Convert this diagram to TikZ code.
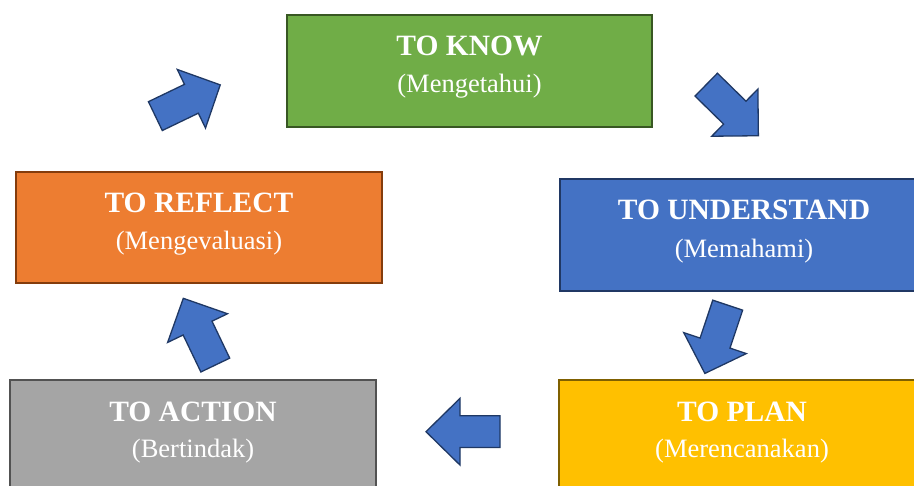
\documentclass[tikz,border=0pt]{standalone}
\usepackage{fontspec}
\setmainfont{Liberation Serif}
\definecolor{kgreen}{HTML}{70AD47}
\definecolor{kgreenD}{HTML}{385723}
\definecolor{ublue}{HTML}{4472C4}
\definecolor{ublueD}{HTML}{203864}
\definecolor{pgold}{HTML}{FFC000}
\definecolor{pgoldD}{HTML}{7F6000}
\definecolor{agray}{HTML}{A5A5A5}
\definecolor{agrayD}{HTML}{525252}
\definecolor{rorange}{HTML}{ED7D31}
\definecolor{rorangeD}{HTML}{843C0C}
\definecolor{arrblue}{HTML}{4472C4}
\definecolor{arrdark}{HTML}{1F3864}
\tikzset{
  box/.style={rectangle, line width=2pt, anchor=north west, inner sep=0pt, outer sep=0pt},
  ttl/.style={text=white, font=\fontsize{29.5}{30}\selectfont\bfseries, anchor=base, inner sep=0pt},
  sub/.style={text=white, font=\fontsize{26.5}{27}\selectfont, anchor=base, inner sep=0pt},
  barrow/.style={fill=arrblue, draw=arrdark, line width=1.3pt, line join=miter},
}
% #1 x, #2 y, #3 angle, #4 length, #5 shaft width, #6 head width, #7 head length
\newcommand\blockarr[7]{%
  \begin{scope}[shift={(#1,#2)}, rotate=#3]
    \draw[barrow] (-#4/2,-#5/2) -- (#4/2-#7,-#5/2) -- (#4/2-#7,-#6/2) -- (#4/2,0)
      -- (#4/2-#7,#6/2) -- (#4/2-#7,#5/2) -- (-#4/2,#5/2) -- cycle;
  \end{scope}}
\begin{document}
\begin{tikzpicture}[x=1pt,y=1pt]
\useasboundingbox (0,0) rectangle (914,-486);
\clip (0,0) rectangle (914,-486);
\fill[white] (0,0) rectangle (914,-486);
% boxes
\node[box, fill=kgreen, draw=kgreenD, minimum width=365pt, minimum height=112pt] (know) at (287,-15) {};
\node[box, fill=ublue, draw=ublueD, minimum width=368pt, minimum height=112pt] (under) at (560,-179) {};
\node[box, fill=pgold, draw=pgoldD, minimum width=366pt, minimum height=111pt] (plan) at (559,-380) {};
\node[box, fill=agray, draw=agrayD, minimum width=366pt, minimum height=111pt] (action) at (10,-380) {};
\node[box, fill=rorange, draw=rorangeD, minimum width=366pt, minimum height=111pt] (reflect) at (16,-172) {};
% texts
\node[ttl] (knowT) at ([yshift=-41pt]know.north) {TO KNOW};
\node[sub] (knowS) at ([yshift=-78pt]know.north) {(Mengetahui)};
\node[ttl] (underT) at ([yshift=-41pt]under.north) {TO UNDERSTAND};
\node[sub] (underS) at ([yshift=-79pt]under.north) {(Memahami)};
\node[ttl] (planT) at ([yshift=-42pt]plan.north) {TO PLAN};
\node[sub] (planS) at ([yshift=-78pt]plan.north) {(Merencanakan)};
\node[ttl] (actionT) at ([yshift=-42pt]action.north) {TO ACTION};
\node[sub] (actionS) at ([yshift=-78pt]action.north) {(Bertindak)};
\node[ttl] (reflectT) at ([yshift=-41pt]reflect.north) {TO REFLECT};
\node[sub] (reflectS) at ([yshift=-78pt]reflect.north) {(Mengevaluasi)};
% block arrows
\blockarr{187.8}{-100.5}{25.7}{72}{32}{65}{32}
\blockarr{732.3}{-110.2}{-44.4}{73}{32}{66}{33}
\blockarr{716.3}{-339.3}{-108.5}{72}{31.5}{66}{32}
\blockarr{463}{-431.7}{180}{74}{31.7}{66.7}{34}
\blockarr{199.3}{-331.7}{115.6}{74}{32}{66.4}{33}
\end{tikzpicture}
\end{document}
